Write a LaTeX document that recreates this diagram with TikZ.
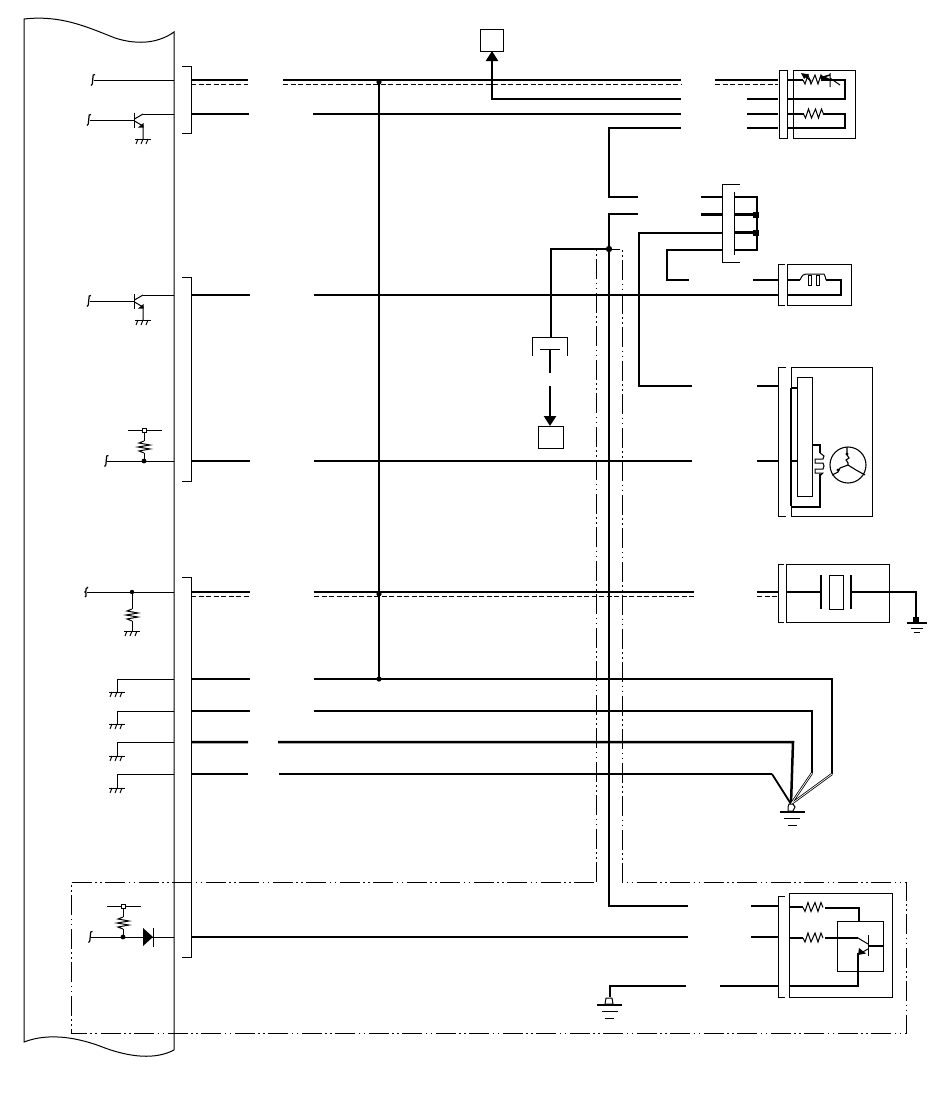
\documentclass[tikz,border=0pt]{standalone}
\usetikzlibrary{arrows.meta}
\tikzset{
  thin line/.style={line width=1pt,line cap=butt},
  wire/.style={line width=2.5pt,line join=miter},
  shield/.style={line width=1pt,dash pattern=on 5pt off 2.5pt},
  boxn/.style={draw,line width=1pt,inner sep=0pt,outer sep=0pt,fill=none},
  dashdot/.style={line width=1pt,dash pattern=on 20pt off 3.5pt on 1.5pt off 3.5pt on 1.5pt off 3.5pt},
  jdot/.style={fill=black,draw=none},
  arrowwire/.style={wire,-{Triangle[width=12pt,length=10pt]},shorten >=0pt},
  striped/.style={line width=0.8pt,double,double distance=0.7pt},
}
\newcommand{\hatchgnd}[2]{\begin{scope}[shift={(#1,#2)},thin line]
  \draw (-8,0)--(8,0);
  \draw (-5,0)--(-7,5) (0,0)--(-2,5) (5,0)--(3,5);
\end{scope}}
\newcommand{\earthgnd}[2]{\begin{scope}[shift={(#1,#2)}]
  \draw[line width=2pt] (-12.5,0)--(12.5,0);
  \draw[thin line] (-8,6.5)--(8,6.5) (-4.5,13)--(4.5,13);
\end{scope}}
\newcommand{\hres}[2]{\begin{scope}[shift={(#1,#2)}]
  \draw[thin line] (0,0)--(2,4)--(5,-5)--(8,4)--(12,-5)--(15,4)--(18,-5)--(20,0);
\end{scope}}
\newcommand{\vres}[2]{\begin{scope}[shift={(#1,#2)}]
  \draw[thin line] (0,0)--(-5,2)--(6,4)--(-6,6)--(6,8)--(-5,10)--(0,12);
\end{scope}}
\newcommand{\fcut}[2]{\begin{scope}[shift={(#1,#2)}]
  \draw[line width=1.2pt] (3,-5.5)--(1.2,-5)--(0.3,4)--(-1,5.5);
\end{scope}}
\newcommand{\npn}[2]{\begin{scope}[shift={(#1,#2)}]
  \draw[line width=1.2pt] (0,-7.5)--(0,7.5);
  \draw[thin line] (0,-1)--(8.5,-6) (0,1)--(8.5,6)--(8.5,19);
  \fill (9,3)--(9,7.5)--(3.5,7.5)--cycle;
\end{scope}}
\begin{document}
\begin{tikzpicture}[x=1pt,y=-1pt]
\useasboundingbox (0,0) rectangle (950,1103);
\fill[white] (0,0) rectangle (950,1103);
% ---------- ECU outline
\draw[line width=1pt] (174,1050) -- (174,32) .. controls (160,42) and (140,46) .. (115,38)
  .. controls (85,26) and (60,15) .. (24,19) -- (24,1042)
  .. controls (50,1032) and (80,1038) .. (105,1048) .. controls (130,1057) and (155,1060) .. (174,1050);
% ---------- ECU connectors
\draw[thin line] (182,66)-|(191,133)--(182,133);
\draw[thin line] (182,277)-|(191,481)--(182,481);
\draw[thin line] (182,577)-|(191,957)--(182,957);
% ---------- internal ECU circuits
\draw[thin line] (94,80)--(174,80); \fcut{92}{80}
\draw[thin line] (90,120)--(134,120)  (143,114)--(174,114); \fcut{88}{120}
\npn{134.5}{120} \hatchgnd{143}{139}
\draw[thin line] (90,301)--(134,301)  (143,295)--(174,295); \fcut{88}{301}
\npn{134.5}{301} \hatchgnd{143}{320}
% pull-up 461
\draw[thin line] (128,430)--(162,430) (144,432)--(144,441) (144,453)--(144,461) (107,461)--(174,461);
\draw[thin line,fill=white] (142,428) rectangle (146,432);
\vres{144}{441} \fcut{105.5}{461} \fill[jdot] (144,461) circle (2.4);
% 592
\draw[thin line] (87,592)--(174,592) (132,592)--(132,609) (132,621)--(132,631);
\draw[line width=1.2pt] (88,587)--(86,589)--(86,591)--(85,592)--(86,593)--(86,596)--(85,597);
\vres{132}{609} \fill[jdot] (132,592) circle (2.2); \hatchgnd{132}{631}
% four grounds
\draw[thin line] (174,679)-|(117,692); \hatchgnd{117}{692}
\draw[thin line] (174,711)-|(117,724); \hatchgnd{117}{724}
\draw[thin line] (174,742)-|(117,756); \hatchgnd{117}{756}
\draw[thin line] (174,774)-|(117,788); \hatchgnd{117}{788}
% bottom
\draw[thin line] (107,906)--(141,906) (123,908)--(123,917) (123,929)--(123,937) (91,937)--(174,937);
\draw[thin line,fill=white] (121,904) rectangle (125,908);
\vres{123}{917} \fcut{89.5}{937} \fill[jdot] (123,937) circle (2.4);
\fill (143,928)--(153,937)--(143,946)--cycle;
\draw[line width=1.2pt] (153.5,927.5)--(153.5,946.5);
% ---------- named boxes
\node[boxn,minimum width=23pt,minimum height=22pt] (relayA) at (491.5,40) {};
\node[boxn,minimum width=25pt,minimum height=22pt] (relayB) at (550.5,437) {};
\node[boxn,minimum width=62pt,minimum height=68pt] (compA) at (824,104) {};
\node[boxn,minimum width=64pt,minimum height=41pt] (compB) at (819,284.5) {};
\node[boxn,minimum width=81pt,minimum height=149pt] (compC) at (831.5,441.5) {};
\node[boxn,minimum width=15pt,minimum height=119pt] (compCi) at (804.5,436.5) {};
\node[boxn,minimum width=103pt,minimum height=58pt] (compD) at (837.5,593) {};
\node[boxn,minimum width=14pt,minimum height=34pt] (compDi) at (836,592) {};
\node[boxn,minimum width=103pt,minimum height=104pt] (compE) at (840.5,945) {};
\node[boxn,minimum width=46pt,minimum height=50pt] (compEi) at (860,946) {};
% ---------- connector brackets on the component side
\draw[thin line] (788,70)-|(779,138)--(788,138) (787,70)--(787,138);
\draw[thin line] (740,184)-|(722,262)--(740,262) (734,192)--(734,255);
\draw[thin line] (785,264)-|(778,305)--(785,305);
\draw[thin line] (786,367)-|(778,516)--(786,516);
\draw[thin line] (784,564)-|(778,622)--(784,622);
\draw[thin line] (785,896)-|(778,997)--(785,997);
\draw[thin line] (532,356)|-(567,337)--(567,356) (540,349)--(560,349);
% ---------- dash-dot area
\draw[dashdot] (596,882)--(596,249)--(622,249)--(622,882)--(906,882)--(906,1033)--(71,1033)--(71,882)--cycle;
% ---------- named wire points
\foreach \n/\x/\y in {a1/191/80,a2/248/80,a3/283/80,a4/681/80,a5/715/80,a6/778/80,
  b1/191/114,b2/249/114,b3/313/114,b4/681/114,b5/747/114,b6/778/114,
  c1/681/99,c2/747/99,c3/778/99,c4/492/99,
  d1/681/128,d2/609/128,d3/609/197,d4/638/197,d5/747/128,d6/778/128,
  e1/638/214,e2/609/214,e3/609/906,e4/688/906,e5/751/906,e6/778/906,ej/609/249,
  f1/701/197,f2/722/197,f3/701/214.5,f4/722/214.5,f5/639/233,f6/722/233,f7/639/386,f8/692/386,
  f9/722/250,f10/667/250,f11/667/280,f12/689/280,f13/753/280,f14/778/280,f15/757/386,f16/778/386,
  g1/551/249,g2/551/337,g3/550/349,g4/550/373,g5/550/386,
  h1/191/295,h2/250/295,h3/314/295,h4/778/295,
  i1/191/461,i2/250/461,i3/314/461,i4/692/461,i5/757/461,i6/778/461,
  k1/191/592,k2/250/592,k3/314/592,k4/694/592,k5/757/592,k6/778/592,
  l1/191/679,l2/250/679,l3/314/679,l4/832/679,l5/832/774,
  m1/191/711,m2/250/711,m3/314/711,m4/812/711,m5/812/773,
  n1/191/742,n2/248/742,n3/278/742,n4/793/742,
  o1/191/774,o2/248/774,o3/279/774,o4/772/774,
  gnd/791/804,v1/379/82,v2/379/594,v3/379/679,
  p1/191/937,p2/688/937,p3/751/937,p4/778/937,
  q1/610/986,q2/686/986,q3/720/986,q4/778/986,q5/610/997}
  {\coordinate (\n) at (\x,\y);}
% ---------- harness
\draw[wire] (a1)--(a2) (a3)--(a4) (a5)--(a6);
\draw[shield] (191,84)--(248,84) (283,84)--(681,84) (715,84)--(778,84);
\draw[wire] (b1)--(b2) (b3)--(b4) (b5)--(b6);
\draw[wire] (c1)--(c4)--(c4|-relayA.south);
\draw[arrowwire] (c4)--(c4|-relayA.south);
\draw[wire] (c2)--(c3);
\draw[wire] (d1)--(d2)--(d3)--(d4) (d5)--(d6);
\draw[wire] (e1)--(e2)--(e3)--(e4) (e5)--(e6);
\draw[wire] (f1)--(f2) (f3)--(f4) (f6)--(f5)--(f7)--(f8);
\draw[wire] (f9)--(f10)--(f11)--(f12) (f13)--(f14) (f15)--(f16);
\draw[wire] (ej)--(g1)--(g2) (g3)--(g4);
\draw[arrowwire] (g5)--(g5|-relayB.north);
\draw[wire] (h1)--(h2) (h3)--(h4);
\draw[wire] (i1)--(i2) (i3)--(i4) (i5)--(i6);
\draw[wire] (k1)--(k2) (k3)--(k4) (k5)--(k6);
\draw[shield] (191,596)--(250,596) (314,596)--(694,596) (757,596)--(778,596);
\draw[wire] (l1)--(l2) (l3)--(l4)--(l5);
\draw[wire] (m1)--(m2) (m3)--(m4)--(m5);
\draw[wire] (n1)--(n2) (n3)--(n4)--(gnd);
\draw[wire] (o1)--(o2) (o3)--(o4);
\draw[line width=1.8pt] (o4)--(gnd);
\draw[striped] (l5)--(gnd) (m5)--(gnd);
\draw[wire] (p1)--(p2) (p3)--(p4);
\draw[wire] (q5)--(q1)--(q2) (q3)--(q4);
\draw[line width=2pt] (379,80)--(v3);
\foreach \p in {v1,v2,v3} \fill[jdot] (\p) circle (2.6);
\fill[jdot] (ej) circle (3.2);
% earth symbols
\draw[thin line,fill=white] (788,807)--(789,804)--(793,804)--(795,807)--(793,811)--(788,811)--cycle;
\earthgnd{792}{812}
\draw[thin line,fill=white] (606,998)--(612,998)--(613,1004)--(605,1004)--cycle;
\earthgnd{609.5}{1005}
% ---------- component A
\draw[wire] (787,80)--(803,80) (822,80)--(845,80)--(845,99)--(787,99);
\hres{803}{80}
\draw[line width=1.5pt] (811,81)--(804,75);
\fill (801,73)--(809,74.5)--(804,79)--cycle;
\fill (821,75)--(830,79)--(821,81)--cycle;
\draw[thin line] (830,73)--(830,87) (830,78)--(840,85);
\draw[line width=1.5pt] (820,78)--(830,75);
\draw[wire] (787,114)--(804,114) (823,114)--(845,114)--(845,128)--(787,128);
\hres{803.5}{114}
% ---------- junction block
\draw[wire] (734,197)--(757,197)--(757,250)--(734,250) (734,214.5)--(757,214.5) (734,232.5)--(757,232.5);
\fill[jdot] (753,212) rectangle (758.5,217.5);
\fill[jdot] (753,230) rectangle (758.5,235.5);
% ---------- component B
\draw[wire] (787,280)--(800,280) (826,280)--(841,280)--(841,295)--(787,295);
\draw[thin line] (800,280) .. controls (802,275) and (804,274) .. (806,274)--(824,274)..controls (825,276) and (826,278)..(826,280);
\draw[thin line] (808,275) rectangle (811.5,285.5);
\draw[thin line] (816,275) rectangle (819.5,285.5);
% ---------- component C
\draw[wire] (791,388)--(compCi.west|-791,388) (791,461)--(compCi.west|-791,461);
\draw[line width=1.5pt] (791,388)--(791,506);
\draw[wire] (791,507)--(820,507)--(820,474);
\draw[wire] (compCi.east|-812,445)--(820,445)--(820,453);
\draw[thin line] (820,453)--(824,456)--(823,459)--(815,459)--(815,463)--(823,463)--(824,466)--(823,469)--(815,469)--(815,473)--(823,473)--(820,476);
\draw[line width=1.1pt] (848,465) circle (18);
\draw[line width=1.1pt] (847,447)--(847,455)--(849,458)--(846,460)--(848,463)--(848,465) (848,465)--(856,470)--(865,475) (848,465)--(840,468)--(838,472)--(832,475);
\fill (847,454) circle (1.6) (838,470) circle (1.6);
% ---------- component D
\draw[wire] (786,592)--(compDi.west-|821,592) (851,592)--(916,592)--(916,619);
\draw[line width=1.2pt] (821,575)--(821,609) (851,575)--(851,609);
\fill[jdot] (913,617) rectangle (919,622);
\draw[line width=2pt] (907,622.5)--(927,622.5);
\draw[thin line] (911,628)--(923,628) (914,632)--(920,632);
% ---------- component E
\draw[wire] (789,907)--(803,907) (825,908)--(859,908)--(859,921);
\hres{803}{907.5}
\draw[wire] (789,938)--(803,938) (825,938)--(858,938);
\hres{803}{938}
\draw[thin line] (858,938)--(868,944);
\draw[line width=1.2pt] (868.5,935)--(868.5,956);
\draw[wire] (868,946)--(compEi.east|-868,946);
\draw[thin line] (868,949)--(861,953);
\fill (859,948)--(866,953.5)--(858,955)--cycle;
\draw[wire] (858,953)--(858,986)--(789,986);
\end{tikzpicture}
\end{document}
